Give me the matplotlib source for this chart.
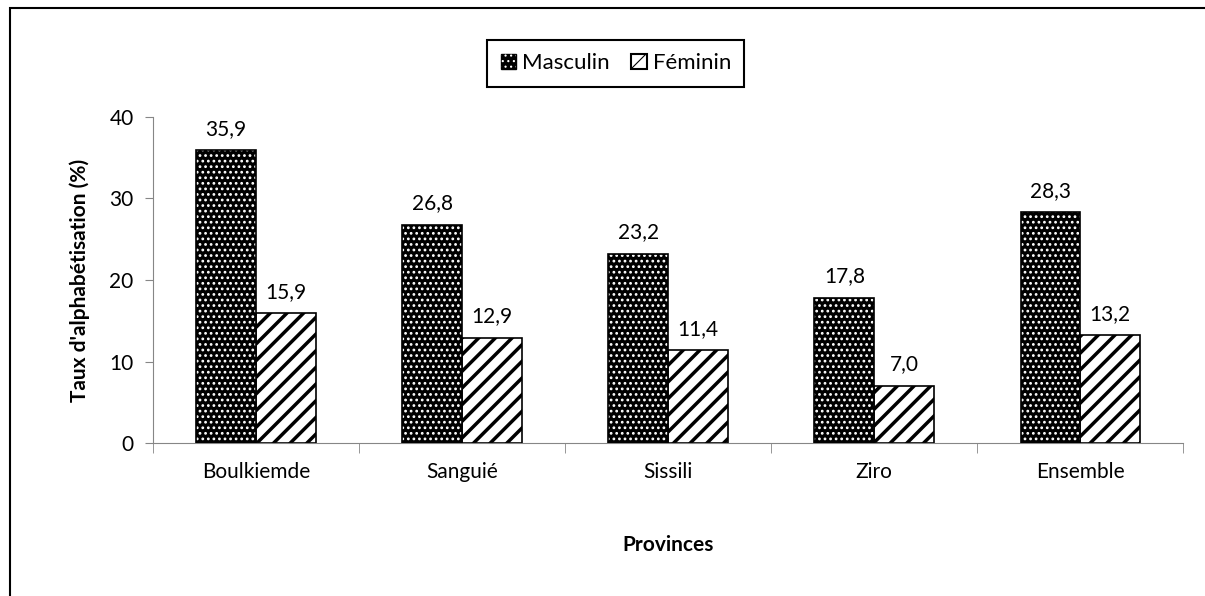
import numpy as np
import matplotlib.pyplot as plt
from matplotlib.patches import Rectangle, Patch
from matplotlib.legend_handler import HandlerTuple

provinces = ['Boulkiemde', 'Sanguié', 'Sissili', 'Ziro', 'Ensemble']
masculin = [35.9, 26.8, 23.2, 17.8, 28.3]
feminin = [15.9, 12.9, 11.4, 7.0, 13.2]
yticks = [0, 10, 20, 30, 40]

plt.rcParams['font.family'] = ['Lato', 'DejaVu Sans']

fig = plt.figure(figsize=(12.05, 5.96), dpi=100)
ax = fig.add_axes([0.127, 0.2567, 0.855, 0.547])

x = np.arange(len(provinces))
w = 0.29

# Masculin : noir a points blancs
ax.bar(x - w / 2, masculin, w, color='black', edgecolor='black', linewidth=0, zorder=2)
plt.rcParams['hatch.linewidth'] = 1.2
ax.bar(x - w / 2, masculin, w, color='none', edgecolor='white', hatch='...', linewidth=0, zorder=3)
ax.bar(x - w / 2, masculin, w, color='none', edgecolor='black', linewidth=1.2, zorder=4)

# Feminin : blanc a rayures noires
plt.rcParams['hatch.linewidth'] = 2.5
ax.bar(x + w / 2, feminin, w, color='white', edgecolor='black', hatch='//', linewidth=1.2, zorder=2)

for i in range(len(provinces)):
    ax.text(x[i] - w / 2, masculin[i] + 1.4, ('%.1f' % masculin[i]).replace('.', ','),
            ha='center', va='bottom', fontsize=15)
    ax.text(x[i] + w / 2, feminin[i] + 1.4, ('%.1f' % feminin[i]).replace('.', ','),
            ha='center', va='bottom', fontsize=15)

ax.set_xlim(-0.5, len(provinces) - 0.5)
ax.set_ylim(0, 40)
ax.set_yticks(yticks)
ax.set_xticks(x)
ax.set_xticklabels(provinces, fontsize=15)
ax.set_xticks(np.arange(-0.5, len(provinces)), minor=True)
ax.tick_params(axis='x', which='major', length=0, pad=14)
ax.tick_params(axis='x', which='minor', length=7, color='#868686', direction='out')
ax.tick_params(axis='y', length=6, color='#868686', labelsize=15, pad=8)
for s in ['top', 'right']:
    ax.spines[s].set_visible(False)
for s in ['left', 'bottom']:
    ax.spines[s].set_color('#868686')

ax.set_ylabel("Taux d'alphabétisation (%)", fontsize=15, fontweight='bold', labelpad=14)
ax.set_xlabel('Provinces', fontsize=15, fontweight='bold', labelpad=38)

plt.rcParams['hatch.linewidth'] = 0.8
h_m = (Patch(facecolor='black', edgecolor='black'),
       Patch(facecolor='none', edgecolor='white', hatch='...', linewidth=0))
h_f = Patch(facecolor='white', edgecolor='black', hatch='//', linewidth=1.5)
fig.legend(handles=[h_m, h_f], labels=['Masculin', 'Féminin'], loc='center',
           bbox_to_anchor=(0.511, 0.894), ncol=2,
           handler_map={tuple: HandlerTuple(ndivide=1, pad=0)},
           frameon=True, fancybox=False, edgecolor='black', fontsize=16,
           handlelength=0.7, handleheight=0.7, handletextpad=0.25, columnspacing=1.0,
           borderpad=0.6, framealpha=1)
fig.legends[0].get_frame().set_linewidth(1.5)

# cadre exterieur
fig.add_artist(Rectangle((10 / 1205, -0.1), 1.2, 1.1 - 8 / 596, transform=fig.transFigure,
                         fill=False, edgecolor='black', linewidth=1.5))

fig.savefig('out.png', dpi=100)
